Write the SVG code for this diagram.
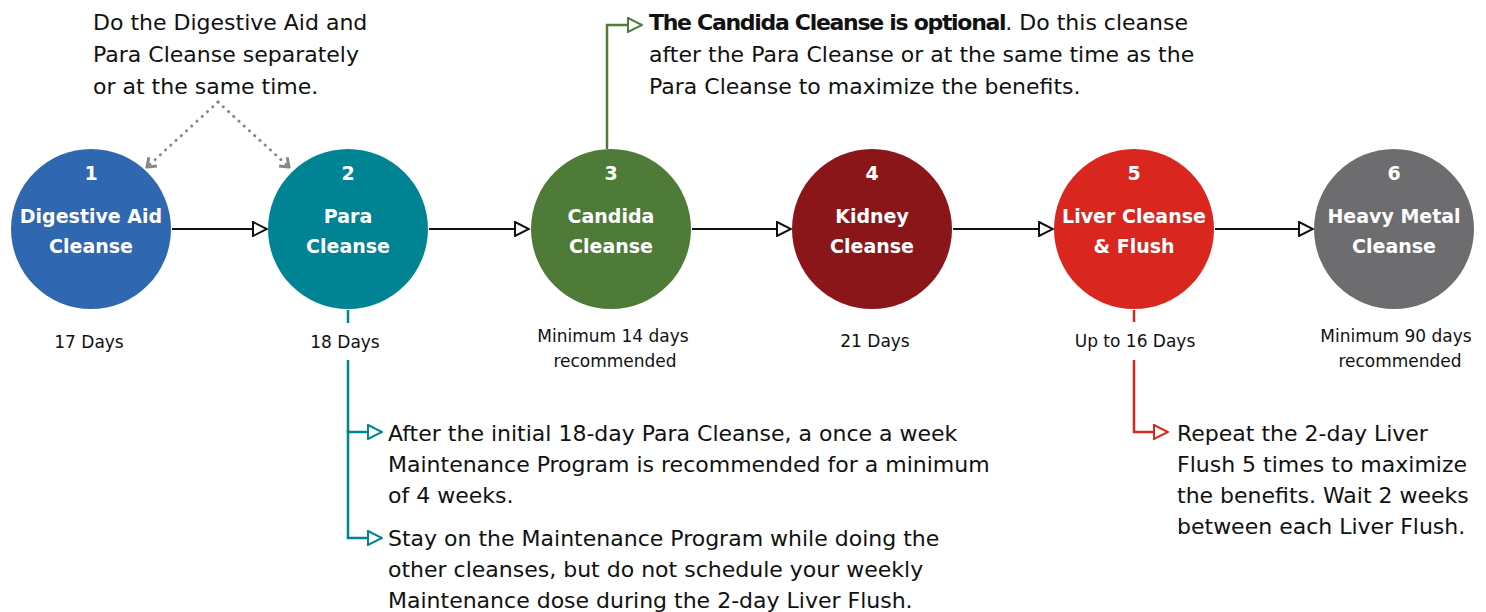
<svg xmlns="http://www.w3.org/2000/svg" width="1486" height="612" viewBox="0 0 1486 612">
<style>
.circle-title{font-family:"DejaVu Sans","Liberation Sans",sans-serif;font-weight:700;font-size:19px;fill:#fff;text-anchor:middle}
.num{font-family:"DejaVu Sans","Liberation Sans",sans-serif;font-weight:700;font-size:19px;fill:#fff;text-anchor:middle}
.days{font-family:"DejaVu Sans","Liberation Sans",sans-serif;font-size:17px;fill:#111;text-anchor:middle}
.note{font-family:"DejaVu Sans","Liberation Sans",sans-serif;font-size:22px;fill:#111}
.b{font-weight:700;letter-spacing:-1.3px}
.flow{stroke:#111;stroke-width:2;fill:none}
</style>
<defs>
<marker id="tri" viewBox="0 0 16 16" refX="15" refY="8" markerWidth="16" markerHeight="16" markerUnits="userSpaceOnUse" orient="auto">
<path d="M1,1 L15,8 L1,15 Z" fill="#fff" stroke="#111" stroke-width="2" stroke-linejoin="miter"/>
</marker>
<marker id="triG" viewBox="0 0 16 16" refX="15" refY="8" markerWidth="16" markerHeight="16" markerUnits="userSpaceOnUse" orient="auto">
<path d="M1,1 L15,8 L1,15 Z" fill="#fff" stroke="#4E7B38" stroke-width="2"/>
</marker>
<marker id="triT" viewBox="0 0 16 16" refX="15" refY="8" markerWidth="16" markerHeight="16" markerUnits="userSpaceOnUse" orient="auto">
<path d="M1,1 L15,8 L1,15 Z" fill="#fff" stroke="#008392" stroke-width="2"/>
</marker>
<marker id="triR" viewBox="0 0 16 16" refX="15" refY="8" markerWidth="16" markerHeight="16" markerUnits="userSpaceOnUse" orient="auto">
<path d="M1,1 L15,8 L1,15 Z" fill="#fff" stroke="#D9261F" stroke-width="2"/>
</marker>
<marker id="chev" viewBox="0 0 14 14" refX="12" refY="7" markerWidth="14" markerHeight="14" markerUnits="userSpaceOnUse" orient="auto">
<path d="M4,1 L12,7 L4,13" fill="none" stroke="#888" stroke-width="3"/>
</marker>
</defs>

<g id="connectors">
<line class="flow" x1="172" y1="229" x2="267" y2="229" marker-end="url(#tri)"/>
<line class="flow" x1="429" y1="229" x2="529" y2="229" marker-end="url(#tri)"/>
<line class="flow" x1="692" y1="229" x2="791" y2="229" marker-end="url(#tri)"/>
<line class="flow" x1="953" y1="229" x2="1053" y2="229" marker-end="url(#tri)"/>
<line class="flow" x1="1215" y1="229" x2="1313" y2="229" marker-end="url(#tri)"/>
<polyline points="218,102 147,167" fill="none" stroke="#888" stroke-width="3" stroke-dasharray="0.1 7" stroke-linecap="round" marker-end="url(#chev)"/>
<polyline points="218,102 289,167" fill="none" stroke="#888" stroke-width="3" stroke-dasharray="0.1 7" stroke-linecap="round" marker-end="url(#chev)"/>
<polyline points="607,149 607,25 642,25" fill="none" stroke="#4E7B38" stroke-width="2.5" marker-end="url(#triG)"/>
<line x1="348" y1="310" x2="348" y2="323" stroke="#008392" stroke-width="2.5"/>
<polyline points="348,360 348,432 382,432" fill="none" stroke="#008392" stroke-width="2.5" marker-end="url(#triT)"/>
<polyline points="348,430 348,538 382,538" fill="none" stroke="#008392" stroke-width="2.5" marker-end="url(#triT)"/>
<line x1="1134" y1="310" x2="1134" y2="322" stroke="#D9261F" stroke-width="2.5"/>
<polyline points="1134,360 1134,432 1168,432" fill="none" stroke="#D9261F" stroke-width="2.5" marker-end="url(#triR)"/>
</g>

<g id="node1">
<circle cx="91" cy="229" r="80" fill="#2F67B1"/>
<text class="num" x="91" y="180">1</text>
<text class="circle-title" x="91" y="223">Digestive Aid</text>
<text class="circle-title" x="91" y="253">Cleanse</text>
<text class="days" x="89" y="348">17 Days</text>
</g>
<g id="node2">
<circle cx="348" cy="229" r="80" fill="#008392"/>
<text class="num" x="348" y="180">2</text>
<text class="circle-title" x="348" y="223">Para</text>
<text class="circle-title" x="348" y="253">Cleanse</text>
<text class="days" x="345" y="348">18 Days</text>
</g>
<g id="node3">
<circle cx="611" cy="229" r="80" fill="#4E7B38"/>
<text class="num" x="611" y="180">3</text>
<text class="circle-title" x="611" y="223">Candida</text>
<text class="circle-title" x="611" y="253">Cleanse</text>
<text class="days" x="613" y="342">Minimum 14 days</text>
<text class="days" x="615" y="367">recommended</text>
</g>
<g id="node4">
<circle cx="872" cy="229" r="80" fill="#8B161A"/>
<text class="num" x="872" y="180">4</text>
<text class="circle-title" x="872" y="223">Kidney</text>
<text class="circle-title" x="872" y="253">Cleanse</text>
<text class="days" x="875" y="347">21 Days</text>
</g>
<g id="node5">
<circle cx="1134" cy="229" r="80" fill="#D9261F"/>
<text class="num" x="1134" y="180">5</text>
<text class="circle-title" x="1134" y="223">Liver Cleanse</text>
<text class="circle-title" x="1134" y="253">&amp; Flush</text>
<text class="days" x="1135" y="347">Up to 16 Days</text>
</g>
<g id="node6">
<circle cx="1394" cy="229" r="80" fill="#6D6D6F"/>
<text class="num" x="1394" y="180">6</text>
<text class="circle-title" x="1394" y="223">Heavy Metal</text>
<text class="circle-title" x="1394" y="253">Cleanse</text>
<text class="days" x="1396" y="342">Minimum 90 days</text>
<text class="days" x="1400" y="367">recommended</text>
</g>

<g id="note-top-left">
<text class="note" x="93" y="30">Do the Digestive Aid and</text>
<text class="note" x="93" y="62">Para Cleanse separately</text>
<text class="note" x="93" y="94">or at the same time.</text>
</g>
<g id="note-candida">
<text class="note" x="649" y="30"><tspan class="b">The Candida Cleanse is optional</tspan>. Do this cleanse</text>
<text class="note" x="649" y="62">after the Para Cleanse or at the same time as the</text>
<text class="note" x="649" y="94">Para Cleanse to maximize the benefits.</text>
</g>
<g id="note-para">
<text class="note" x="388" y="441">After the initial 18-day Para Cleanse, a once a week</text>
<text class="note" x="388" y="472">Maintenance Program is recommended for a minimum</text>
<text class="note" x="388" y="503">of 4 weeks.</text>
<text class="note" x="388" y="546">Stay on the Maintenance Program while doing the</text>
<text class="note" x="388" y="577">other cleanses, but do not schedule your weekly</text>
<text class="note" x="388" y="608">Maintenance dose during the 2-day Liver Flush.</text>
</g>
<g id="note-liver">
<text class="note" x="1177" y="441">Repeat the 2-day Liver</text>
<text class="note" x="1177" y="472">Flush 5 times to maximize</text>
<text class="note" x="1177" y="503">the benefits. Wait 2 weeks</text>
<text class="note" x="1177" y="534">between each Liver Flush.</text>
</g>
</svg>
